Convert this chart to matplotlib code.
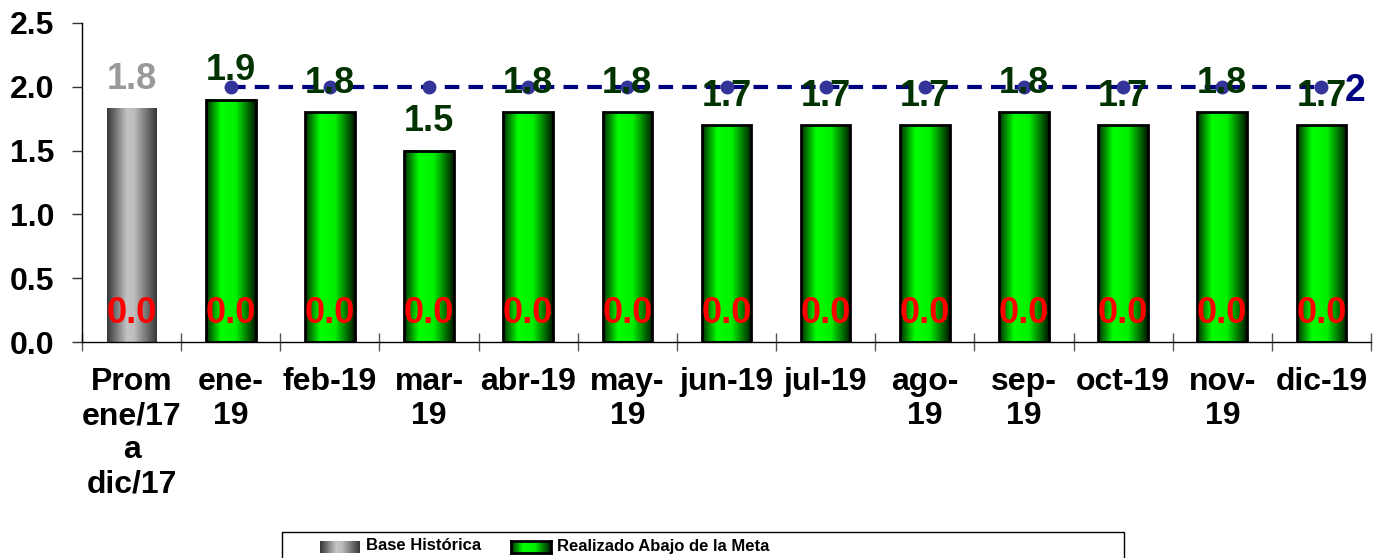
import numpy as np
import matplotlib
matplotlib.use("Agg")
import matplotlib.pyplot as plt
from matplotlib.patches import Rectangle
from matplotlib.colors import to_rgb

plt.rcParams['font.family'] = ['Liberation Sans', 'DejaVu Sans']
plt.rcParams['font.weight'] = 'bold'

# data
categories = ["Prom\nene/17\na\ndic/17", "ene-\n19", "feb-19", "mar-\n19", "abr-19", "may-\n19",
              "jun-19", "jul-19", "ago-\n19", "sep-\n19", "oct-19", "nov-\n19", "dic-19"]
base_historica = [1.83]
realizado_abajo = [1.9, 1.8, 1.5, 1.8, 1.8, 1.7, 1.7, 1.7, 1.8, 1.7, 1.8, 1.7]
realizado_arriba = [0.0] * 13
meta = [2] * 12

GRAY_STOPS = ([0.0, 0.4, 0.55, 1.0], ['#383838', '#c4c4c4', '#bcbcbc', '#383838'])
GREEN_STOPS = ([0.0, 0.3, 0.6, 1.0], ['#003000', '#00ff00', '#00f000', '#001a00'])


def gradient(stops, n=64):
    pos, cols = stops
    rgb = np.array([to_rgb(c) for c in cols])
    t = np.linspace(0, 1, n)
    g = np.stack([np.interp(t, pos, rgb[:, i]) for i in range(3)], axis=-1)
    return g[np.newaxis, :, :]


def fill_bars(ax, bars, stops):
    for b in bars:
        x0, w, h = b.get_x(), b.get_width(), b.get_height()
        ax.imshow(gradient(stops), extent=[x0, x0 + w, 0, h], aspect='auto',
                  interpolation='bilinear', zorder=2)


fig = plt.figure(figsize=(13.84, 5.58), dpi=100)
ax = fig.add_axes([82 / 1384, 216 / 558, 1289 / 1384, 319 / 558])

x = np.arange(len(categories))
xm = x[1:]

gray_bars = ax.bar(x[:1], base_historica, width=0.5, facecolor='none', edgecolor='none', zorder=3)
green_bars = ax.bar(xm, realizado_abajo, width=0.5, facecolor='none', edgecolor='black',
                    linewidth=2, zorder=3)
fill_bars(ax, gray_bars, GRAY_STOPS)
fill_bars(ax, green_bars, GREEN_STOPS)

ax.plot(xm, meta, color='#000080', lw=3, dashes=(3.5, 2.2), dash_capstyle='butt', zorder=4)
ax.plot(xm, meta, 'o', color='#333399', ms=9, zorder=5)
ax.annotate(str(meta[-1]), (xm[-1], meta[-1]), xytext=(17, 0), textcoords='offset points',
            ha='left', va='center_baseline', fontsize=27, color='#000080', zorder=6)

lbl_off = (0, 14)
for xi, v in zip(x[:1], base_historica):
    ax.annotate(f"{v:.1f}", (xi, v), xytext=lbl_off, textcoords='offset points',
                ha='center', va='baseline', fontsize=26, color='#999999', zorder=6)
for xi, v in zip(xm, realizado_abajo):
    ax.annotate(f"{v:.1f}", (xi, v), xytext=lbl_off, textcoords='offset points',
                ha='center', va='baseline', fontsize=26, color='#003300', zorder=6)
for xi, v in zip(x, realizado_arriba):
    ax.annotate(f"{v:.1f}", (xi, v), xytext=lbl_off, textcoords='offset points',
                ha='center', va='baseline', fontsize=26, color='#ff0000', zorder=6)

ax.set_xlim(-0.5, len(categories) - 0.5)
ax.set_ylim(0, 2.5)
ax.set_yticks(np.arange(0, 2.51, 0.5))
ax.set_yticklabels([f"{t:.1f}" for t in np.arange(0, 2.51, 0.5)])
ax.set_xticks(x)
ax.set_xticklabels(categories, linespacing=1.18)
ax.set_xticks(np.arange(-0.5, len(categories)), minor=True)

for s in ['top', 'right']:
    ax.spines[s].set_visible(False)
ax.spines['left'].set_linewidth(1)
ax.spines['bottom'].set_linewidth(1)
ax.tick_params(axis='y', direction='out', length=7, width=1, pad=13, labelsize=23, color='#333333')
ax.tick_params(axis='x', which='major', length=0, pad=18, labelsize=23)
ax.tick_params(axis='x', which='minor', direction='inout', length=13, width=1, color='#555555')

# legend drawn by hand (box runs off the bottom edge)
fig.patches.append(Rectangle((282 / 1384, -0.02), 842 / 1384, 26 / 558 + 0.02,
                             transform=fig.transFigure, facecolor='white',
                             edgecolor='black', lw=1, zorder=-1))
sw_y, sw_h = 1 - 553 / 558, 12 / 558
for left, stops, edge in [(320, GRAY_STOPS, False), (511, GREEN_STOPS, True)]:
    sax = fig.add_axes([left / 1384, sw_y, 40 / 1384, sw_h], zorder=5)
    sax.imshow(gradient(stops), aspect='auto', interpolation='bilinear')
    sax.set_xticks([]); sax.set_yticks([])
    for s in sax.spines.values():
        s.set_visible(edge)
        s.set_linewidth(2)
fig.text(366 / 1384, 1 - 546 / 558, "Base Histórica", ha='left', va='center', fontsize=12)
fig.text(557 / 1384, 1 - 546 / 558, "Realizado Abajo de la Meta", ha='left', va='center',
         fontsize=12)

fig.savefig("out.png", dpi=100)
